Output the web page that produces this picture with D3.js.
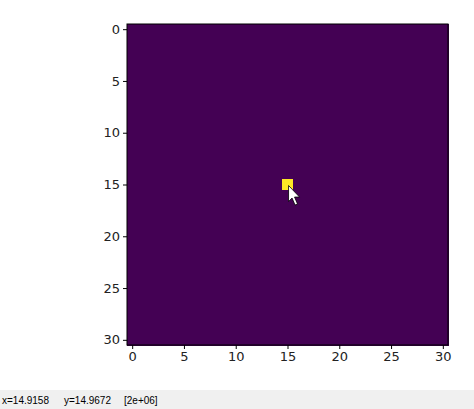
<!DOCTYPE html>
<html><head><meta charset="utf-8">
<script src="https://cdn.jsdelivr.net/npm/d3@7"></script>
<style>body{margin:0;background:#fff;font-family:"DejaVu Sans",sans-serif}</style>
</head><body>
<script>
const N = 31;
const peakRow = 15, peakCol = 15, peakValue = 2e6;
const ticks = [0,5,10,15,20,25,30];
const statusText = ["x=14.9158", "y=14.9672", "[2e+06]"];

const W=474,H=409;
const svg=d3.select("body").append("svg").attr("width",W).attr("height",H);
const L=127,T=24,S=321;
const x=d3.scaleLinear().domain([-0.5,N-0.5]).range([L,L+S]);
const y=d3.scaleLinear().domain([-0.5,N-0.5]).range([T,T+S]);
const color=d3.scaleSequential(d3.interpolateViridis).domain([0,peakValue]);
const cells=[];
for(let r=0;r<N;r++)for(let c=0;c<N;c++)cells.push({r,c,v:(r===peakRow&&c===peakCol)?peakValue:0});
svg.append("g").selectAll("rect").data(cells).join("rect")
 .attr("x",d=>x(d.c-0.5)).attr("y",d=>y(d.r-0.5))
 .attr("width",x(1)-x(0)+0.5).attr("height",y(1)-y(0)+0.5)
 .attr("fill",d=>color(d.v)).attr("shape-rendering","crispEdges");
svg.append("rect").attr("x",L).attr("y",T).attr("width",S).attr("height",S).attr("fill","none").attr("stroke","#000").attr("stroke-width",1);
const ax=svg.append("g").attr("transform",`translate(0,${T+S})`).call(d3.axisBottom(x).tickValues(ticks).tickSize(4).tickPadding(3));
const ay=svg.append("g").attr("transform",`translate(${L},0)`).call(d3.axisLeft(y).tickValues(ticks).tickSize(4).tickPadding(3));
[ax,ay].forEach(a=>{a.select(".domain").remove();a.selectAll("text").attr("font-size",13).attr("font-family","DejaVu Sans").attr("fill","#222");});
// cursor
const cx=x(15.1),cy=y(15.1);
svg.append("path").attr("d",`M${cx},${cy} l0,16 l3.5,-3.5 l3,7 l2.5,-1 l-3,-7 l5,0 z`).attr("fill","#fff").attr("stroke","#000").attr("stroke-width",0.8);
// status bar
svg.append("rect").attr("x",0).attr("y",390).attr("width",W).attr("height",19).attr("fill","#f0f0f0");
const sx=[2,64,124];
statusText.forEach((t,i)=>svg.append("text").attr("x",sx[i]).attr("y",404).attr("font-size",10).attr("font-family","Liberation Sans").attr("fill","#000").text(t));
</script>
</body></html>
